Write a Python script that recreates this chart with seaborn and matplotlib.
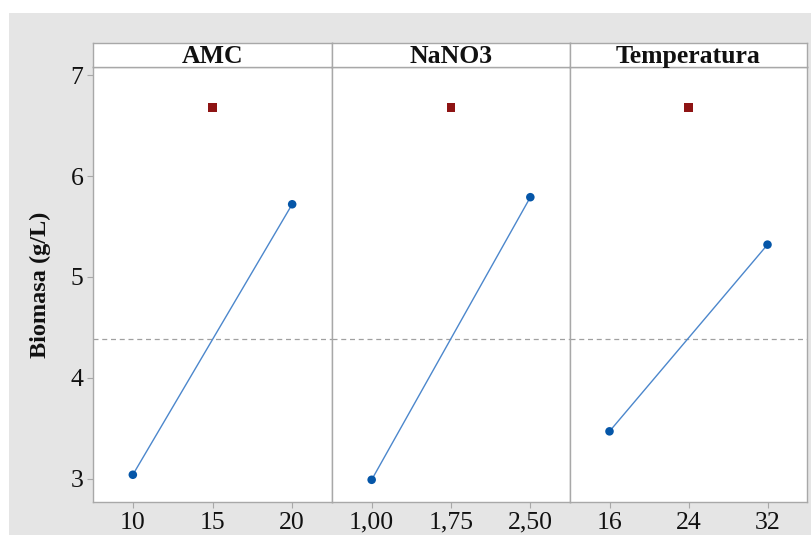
import matplotlib
matplotlib.use("Agg")
import matplotlib.pyplot as plt
from matplotlib.patches import Rectangle
import seaborn as sns
import pandas as pd

# ---- data ----
factors = ["AMC", "NaNO3", "Temperatura"]
levels_low = [10, 1.00, 16]
levels_center = [15, 1.75, 24]
levels_high = [20, 2.50, 32]
tick_labels = [["10", "15", "20"], ["1,00", "1,75", "2,50"], ["16", "24", "32"]]
mean_low = [3.04, 2.99, 3.47]
mean_high = [5.72, 5.79, 5.32]
center_point = [6.68, 6.68, 6.68]
grand_mean = 4.385
y_ticks = [3, 4, 5, 6, 7]
y_label = "Biomasa (g/L)"

sns.set_theme(style="white")
plt.rcParams["font.family"] = ["Liberation Serif", "DejaVu Serif"]

BLUE = "#0556A8"
LINE = "#4C87CC"
RED = "#8E1414"
EDGE = "#A8A8A8"
BG = "#E5E5E5"

W, H = 811, 535
fig = plt.figure(figsize=(W / 100, H / 100), dpi=100, facecolor="white")
fig.patches.append(Rectangle((9 / W, 0), 1 - 9 / W, 1 - 13 / H, transform=fig.transFigure,
                             facecolor=BG, edgecolor="none", zorder=-10))

edges_x = [93, 332, 570, 807]
y_bot, y_head, y_top = 502, 67, 43

for i, f in enumerate(factors):
    x0, x1 = edges_x[i], edges_x[i + 1]
    ax = fig.add_axes([x0 / W, 1 - y_bot / H, (x1 - x0) / W, (y_bot - y_head) / H])
    hax = fig.add_axes([x0 / W, 1 - y_head / H, (x1 - x0) / W, (y_head - y_top) / H])

    df = pd.DataFrame({"x": [levels_low[i], levels_high[i]], "y": [mean_low[i], mean_high[i]]})
    dc = pd.DataFrame({"x": [levels_center[i]], "y": [center_point[i]]})
    ax.axhline(grand_mean, color="#A0A0A0", lw=0.9, ls=(0, (4, 3)), zorder=1)
    sns.lineplot(data=df, x="x", y="y", ax=ax, color=LINE, lw=1.0, zorder=2)
    sns.scatterplot(data=df, x="x", y="y", ax=ax, color=BLUE, s=38, marker="o",
                    edgecolor="none", linewidth=0, zorder=3)
    sns.scatterplot(data=dc, x="x", y="y", ax=ax, color=RED, s=40, marker="s",
                    edgecolor="none", linewidth=0, zorder=3)

    span = levels_high[i] - levels_low[i]
    ax.set_xlim(levels_low[i] - 0.25 * span, levels_high[i] + 0.25 * span)
    ax.set_ylim(2.77, 7.08)
    ax.set_xticks([levels_low[i], levels_center[i], levels_high[i]])
    ax.set_xticklabels(tick_labels[i], fontsize=18.5, color="#111111")
    ax.set_xlabel("")
    ax.set_ylabel("")
    ax.set_facecolor("white")
    ax.tick_params(axis="x", direction="out", length=4, width=0.8, color=EDGE, pad=3, bottom=True)
    if i == 0:
        ax.set_yticks(y_ticks)
        ax.set_yticklabels([str(t) for t in y_ticks], fontsize=18.5, color="#111111")
        ax.tick_params(axis="y", direction="out", length=4, width=0.8, color=EDGE, pad=3, left=True)
        ax.set_ylabel(y_label, fontsize=17.5, fontweight="bold", color="#111111", labelpad=14)
    else:
        ax.set_yticks([])
    for s in ax.spines.values():
        s.set_color(EDGE)
        s.set_linewidth(1.0)

    hax.set_facecolor("white")
    hax.set_xticks([])
    hax.set_yticks([])
    for s in hax.spines.values():
        s.set_color(EDGE)
        s.set_linewidth(1.0)
    hax.text(0.5, 0.45, f, transform=hax.transAxes, ha="center", va="center",
             fontsize=18.5, fontweight="bold", color="#111111")

fig.savefig("out.png", dpi=100, facecolor="white")
